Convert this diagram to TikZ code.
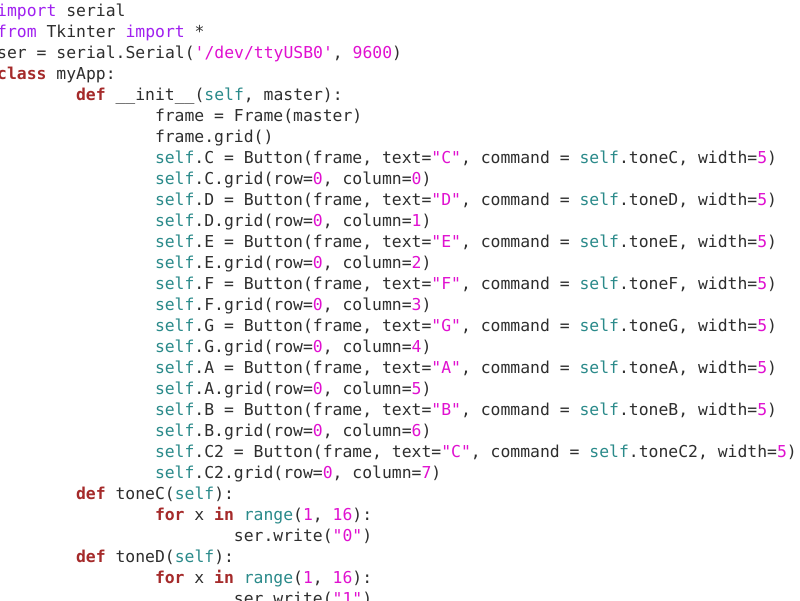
\documentclass[tikz,border=0pt]{standalone}
\usepackage{fontspec}
\setmonofont{DejaVu Sans Mono}
\definecolor{txt}{HTML}{2E2E2E}
\definecolor{kwc}{HTML}{A52A2A}
\definecolor{impc}{HTML}{A020F0}
\definecolor{strc}{HTML}{E010D0}
\definecolor{slfc}{HTML}{2A8A8A}
\newcommand{\kw}[1]{\textcolor{kwc}{\bfseries #1}}
\newcommand{\imp}[1]{\textcolor{impc}{#1}}
\newcommand{\cs}[1]{\textcolor{strc}{#1}}
\newcommand{\slf}[1]{\textcolor{slfc}{#1}}
\tikzset{code/.style={anchor=base west,inner sep=0pt,font=\ttfamily\fontsize{16.4}{16.4}\selectfont,text=txt}}
\begin{document}
\begin{tikzpicture}[x=1pt,y=-1pt]
\useasboundingbox (0,0) rectangle (800,600);
\fill[white] (0,0) rectangle (800,600);
\clip (0,0) rectangle (800,600);
\def\ia{-3}\def\ib{75.9}\def\ic{154.8}\def\id{233.7}
\node[code] (l1) at (\ia,16) {\imp{import} serial};
\node[code] (l2) at (\ia,37) {\imp{from} Tkinter \imp{import} *};
\node[code] (l3) at (\ia,58) {ser = serial.Serial(\cs{'/dev/ttyUSB0'}, \cs{9600})};
\node[code] (l4) at (\ia,79) {\kw{class} myApp:};
\node[code] (l5) at (\ib,100) {\kw{def} \_\_init\_\_(\slf{self}, master):};
\node[code] (l6) at (\ic,121) {frame = Frame(master)};
\node[code] (l7) at (\ic,142) {frame.grid()};
\node[code] (l8) at (\ic,163) {\slf{self}.C = Button(frame, text=\cs{"C"}, command = \slf{self}.toneC, width=\cs{5})};
\node[code] (l9) at (\ic,184) {\slf{self}.C.grid(row=\cs{0}, column=\cs{0})};
\node[code] (l10) at (\ic,205) {\slf{self}.D = Button(frame, text=\cs{"D"}, command = \slf{self}.toneD, width=\cs{5})};
\node[code] (l11) at (\ic,226) {\slf{self}.D.grid(row=\cs{0}, column=\cs{1})};
\node[code] (l12) at (\ic,247) {\slf{self}.E = Button(frame, text=\cs{"E"}, command = \slf{self}.toneE, width=\cs{5})};
\node[code] (l13) at (\ic,268) {\slf{self}.E.grid(row=\cs{0}, column=\cs{2})};
\node[code] (l14) at (\ic,289) {\slf{self}.F = Button(frame, text=\cs{"F"}, command = \slf{self}.toneF, width=\cs{5})};
\node[code] (l15) at (\ic,310) {\slf{self}.F.grid(row=\cs{0}, column=\cs{3})};
\node[code] (l16) at (\ic,331) {\slf{self}.G = Button(frame, text=\cs{"G"}, command = \slf{self}.toneG, width=\cs{5})};
\node[code] (l17) at (\ic,352) {\slf{self}.G.grid(row=\cs{0}, column=\cs{4})};
\node[code] (l18) at (\ic,373) {\slf{self}.A = Button(frame, text=\cs{"A"}, command = \slf{self}.toneA, width=\cs{5})};
\node[code] (l19) at (\ic,394) {\slf{self}.A.grid(row=\cs{0}, column=\cs{5})};
\node[code] (l20) at (\ic,415) {\slf{self}.B = Button(frame, text=\cs{"B"}, command = \slf{self}.toneB, width=\cs{5})};
\node[code] (l21) at (\ic,436) {\slf{self}.B.grid(row=\cs{0}, column=\cs{6})};
\node[code] (l22) at (\ic,457) {\slf{self}.C2 = Button(frame, text=\cs{"C"}, command = \slf{self}.toneC2, width=\cs{5})};
\node[code] (l23) at (\ic,478) {\slf{self}.C2.grid(row=\cs{0}, column=\cs{7})};
\node[code] (l24) at (\ib,499) {\kw{def} toneC(\slf{self}):};
\node[code] (l25) at (\ic,520) {\kw{for} x \kw{in} \slf{range}(\cs{1}, \cs{16}):};
\node[code] (l26) at (\id,541) {ser.write(\cs{"0"})};
\node[code] (l27) at (\ib,562) {\kw{def} toneD(\slf{self}):};
\node[code] (l28) at (\ic,583) {\kw{for} x \kw{in} \slf{range}(\cs{1}, \cs{16}):};
\node[code] (l29) at (\id,604) {ser.write(\cs{"1"})};
\end{tikzpicture}
\end{document}
